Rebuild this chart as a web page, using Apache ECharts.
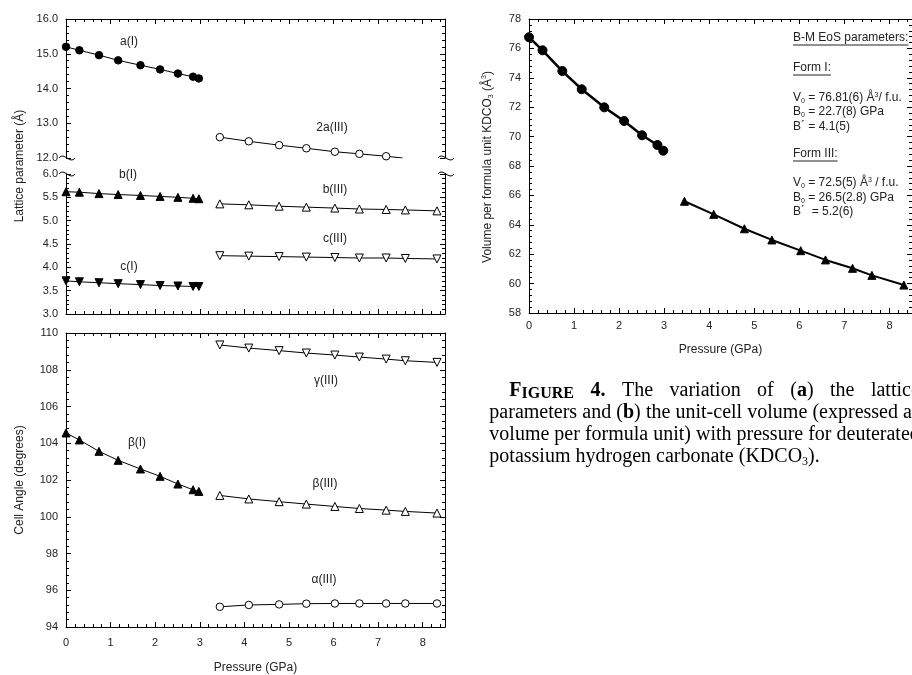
<!DOCTYPE html>
<html><head><meta charset="utf-8">
<script src="https://cdn.jsdelivr.net/npm/echarts@6/dist/echarts.min.js"></script>
<style>html,body{margin:0;padding:0;background:#fff}#c{width:912px;height:675px;overflow:hidden}</style>
</head><body><div id="c"></div>
<script>
// ---- data ----
const pressureI   = [0, 0.30, 0.74, 1.17, 1.67, 2.11, 2.51, 2.85, 2.98];
const pressureIII = [3.45, 4.10, 4.78, 5.39, 6.03, 6.58, 7.18, 7.61, 8.32];
const aI     = [15.20, 15.10, 14.96, 14.81, 14.67, 14.55, 14.43, 14.34, 14.29];
const a2III  = [12.60, 12.48, 12.37, 12.28, 12.18, 12.12, 12.05];
const a2IIIFitEnd = [7.55, 12.0];
const bI     = [5.62, 5.61, 5.58, 5.56, 5.54, 5.52, 5.50, 5.48, 5.47];
const bIII   = [5.36, 5.34, 5.31, 5.29, 5.27, 5.25, 5.24, 5.23, 5.21];
const cI     = [3.71, 3.69, 3.67, 3.65, 3.63, 3.61, 3.60, 3.59, 3.59];
const cIII   = [4.25, 4.24, 4.23, 4.22, 4.21, 4.20, 4.20, 4.19, 4.18];
const betaI   = [104.56, 104.18, 103.56, 103.07, 102.60, 102.20, 101.78, 101.47, 101.38];
const betaIII = [101.16, 100.97, 100.82, 100.69, 100.56, 100.45, 100.36, 100.29, 100.20];
const gammaIII= [109.35, 109.18, 109.04, 108.91, 108.80, 108.69, 108.58, 108.49, 108.40];
const alphaIII= [95.10, 95.20, 95.23, 95.27, 95.28, 95.28, 95.28, 95.28, 95.28];
const volI   = [76.76, 75.87, 74.46, 73.22, 71.99, 71.06, 70.09, 69.43, 69.04];
const volIII = [65.60, 64.71, 63.73, 62.97, 62.24, 61.61, 61.04, 60.56, 59.90];
const xTicksLeft  = {min: 0, max: 8.5, interval: 1};
const yUpper = {min: 12, max: 16, interval: 1};
const yLower = {min: 3, max: 6, interval: 0.5};
const yAngle = {min: 94, max: 110, interval: 2};
const yVol   = {min: 58, max: 78, interval: 2};

const FONT = '"Liberation Sans", Arial, Helvetica, sans-serif';
const SERIF = '"Liberation Serif", "Times New Roman", serif';
const TXT = '#222';

function pairs(xs, ys) { return ys.map((y, i) => [xs[i], y]); }

function axis(extra) {
  const base = {
    type: 'value',
    axisLine: {show: true, onZero: false, lineStyle: {color: '#000', width: 1}},
    axisTick: {show: true, inside: true, length: 5, lineStyle: {color: '#000', width: 1}},
    minorTick: {show: true, splitNumber: 5, length: 3, lineStyle: {color: '#000', width: 1}},
    splitLine: {show: false},
    minorSplitLine: {show: false},
    axisLabel: {show: false}
  };
  return Object.assign(base, extra);
}
function lbl(extra) {
  return Object.assign({show: true, color: TXT, fontFamily: FONT, fontSize: 11, showMaxLabel: true}, extra);
}

const chart = echarts.init(document.getElementById('c'), null, {renderer: 'canvas'});

const grids = [
  {left: 66, width: 379, top: 19, height: 139},
  {left: 66, width: 379, top: 174, height: 140},
  {left: 66, width: 379, top: 333, height: 294},
  {left: 529, width: 390, top: 19, height: 294}
];

const xAxis = [
  axis(Object.assign({gridIndex: 0, position: 'bottom', show: false}, xTicksLeft)),
  axis(Object.assign({gridIndex: 0, position: 'top'}, xTicksLeft)),
  axis(Object.assign({gridIndex: 1, position: 'bottom'}, xTicksLeft)),
  axis(Object.assign({gridIndex: 1, position: 'top', show: false}, xTicksLeft)),
  axis(Object.assign({gridIndex: 2, position: 'bottom',
    axisLabel: lbl({margin: 10, showMaxLabel: false}),
    name: 'Pressure (GPa)', nameLocation: 'middle', nameGap: 35,
    nameTextStyle: {color: TXT, fontFamily: FONT, fontSize: 12}}, xTicksLeft)),
  axis(Object.assign({gridIndex: 2, position: 'top'}, xTicksLeft)),
  axis(Object.assign({gridIndex: 3, position: 'bottom',
    axisLabel: lbl({margin: 7, showMaxLabel: false}),
    name: 'Pressure (GPa)', nameLocation: 'middle', nameGap: 31,
    nameTextStyle: {color: TXT, fontFamily: FONT, fontSize: 12}}, xTicksLeft)),
  axis(Object.assign({gridIndex: 3, position: 'top'}, xTicksLeft))
];

const yAxis = [
  axis(Object.assign({gridIndex: 0, position: 'left', axisLabel: lbl({margin: 8, formatter: v => v.toFixed(1)})}, yUpper)),
  axis(Object.assign({gridIndex: 0, position: 'right'}, yUpper)),
  axis(Object.assign({gridIndex: 1, position: 'left', axisLabel: lbl({margin: 8, formatter: v => v.toFixed(1)})}, yLower)),
  axis(Object.assign({gridIndex: 1, position: 'right'}, yLower)),
  axis(Object.assign({gridIndex: 2, position: 'left', axisLabel: lbl({margin: 8})}, yAngle)),
  axis(Object.assign({gridIndex: 2, position: 'right'}, yAngle)),
  axis(Object.assign({gridIndex: 3, position: 'left', axisLabel: lbl({margin: 8})}, yVol)),
  axis(Object.assign({gridIndex: 3, position: 'right'}, yVol))
];

function ser(name, data, axisIdx, symbol, filled, opts) {
  opts = opts || {};
  return Object.assign({
    name: name, type: 'line', data: data,
    xAxisIndex: axisIdx, yAxisIndex: axisIdx,
    symbol: symbol === 'down' ? 'triangle' : symbol,
    symbolRotate: symbol === 'down' ? 180 : 0,
    symbolSize: symbol === 'circle' ? 7.5 : 8,
    showAllSymbol: true,
    lineStyle: {color: '#000', width: 1},
    itemStyle: {color: filled ? '#000' : '#fff', borderColor: '#000', borderWidth: 1, opacity: 1},
    emphasis: {disabled: true},
    animation: false, z: 3
  }, opts);
}

const series = [
  ser('a(I)', pairs(pressureI, aI), 0, 'circle', true),
  ser('2a(III) fit', [[pressureIII[a2III.length - 1], a2III[a2III.length - 1]], a2IIIFitEnd], 0, 'none', false, {z: 2}),
  ser('2a(III)', pairs(pressureIII, a2III), 0, 'circle', false),
  ser('b(I)', pairs(pressureI, bI), 2, 'triangle', true),
  ser('b(III)', pairs(pressureIII, bIII), 2, 'triangle', false),
  ser('c(I)', pairs(pressureI, cI), 2, 'down', true),
  ser('c(III)', pairs(pressureIII, cIII), 2, 'down', false),
  ser('beta(I)', pairs(pressureI, betaI), 4, 'triangle', true),
  ser('beta(III)', pairs(pressureIII, betaIII), 4, 'triangle', false),
  ser('gamma(III)', pairs(pressureIII, gammaIII), 4, 'down', false),
  ser('alpha(III)', pairs(pressureIII, alphaIII), 4, 'circle', false),
  ser('V(I)', pairs(pressureI, volI), 6, 'circle', true, {symbolSize: 9, lineStyle: {color: '#000', width: 2.5}}),
  ser('V(III)', pairs(pressureIII, volIII), 6, 'triangle', true, {symbolSize: 8, lineStyle: {color: '#000', width: 2}})
];

chart.setOption({
  animation: false,
  backgroundColor: '#fff',
  grid: grids,
  xAxis: xAxis,
  yAxis: yAxis,
  series: series
});

// ---- decorations: labels, axis-break marks, EoS box, caption ----
function t(text, x, y, o) {
  o = o || {};
  return {type: 'text', x: x, y: y, z: 10, silent: true,
    style: Object.assign({text: text, fill: TXT, font: (o.size || 12) + 'px ' + FONT,
      align: o.align || 'center', verticalAlign: 'middle'}, o.style || {}),
    rotation: o.rotation || 0};
}
const g = [];
[['a(I)', 129, 42], ['2a(III)', 332, 128], ['b(I)', 128, 175], ['b(III)', 335, 190],
 ['c(III)', 335, 239], ['c(I)', 129, 267], ['γ(III)', 326, 381], ['β(I)', 137, 443],
 ['β(III)', 325, 484], ['α(III)', 324, 580]].forEach(l => g.push(t(l[0], l[1], l[2])));

g.push(t('Lattice parameter (Å)', 20, 166, {rotation: Math.PI / 2}));
g.push(t('Cell Angle (degrees)', 20, 480, {rotation: Math.PI / 2}));
g.push({type: 'text', x: 488, y: 167, rotation: Math.PI / 2, z: 10, silent: true,
  style: {text: 'Volume per formula unit KDCO{s|3} (Å{p|3})', fill: TXT, font: '12px ' + FONT,
    align: 'center', verticalAlign: 'middle',
    rich: {s: {fontSize: 7, fontFamily: FONT, verticalAlign: 'bottom', fill: TXT, lineHeight: 14},
           p: {fontSize: 7, fontFamily: FONT, verticalAlign: 'top', fill: TXT, lineHeight: 14}}}});

function squiggle(cx, cy) {
  return {type: 'bezierCurve', z: 12, silent: true,
    shape: {x1: cx - 8, y1: cy, cpx1: cx - 3, cpy1: cy - 7, cpx2: cx + 3, cpy2: cy + 7, x2: cx + 8, y2: cy},
    style: {stroke: '#000', lineWidth: 1, fill: null}};
}
const pUL = chart.convertToPixel({gridIndex: 0}, [0, yUpper.min]);
const pUR = chart.convertToPixel({gridIndex: 0}, [xTicksLeft.max, yUpper.min]);
const pLL = chart.convertToPixel({gridIndex: 1}, [0, yLower.max]);
const pLR = chart.convertToPixel({gridIndex: 1}, [xTicksLeft.max, yLower.max]);
[pUL, pUR, pLL, pLR].forEach(p => g.push(squiggle(p[0] + 1, p[1])));

// EoS parameter box
const bx = 793;
const ctx = document.createElement('canvas').getContext('2d');
function underlined(text, y) {
  g.push(t(text, bx, y, {align: 'left'}));
  ctx.font = '12px ' + FONT;
  const w = ctx.measureText(text).width;
  g.push({type: 'line', z: 10, silent: true, shape: {x1: bx, y1: y + 7, x2: bx + w, y2: y + 7},
    style: {stroke: TXT, lineWidth: 1}});
}
function richLine(text, y) {
  g.push({type: 'text', x: bx, y: y, z: 10, silent: true,
    style: {text: text, fill: TXT, font: '12px ' + FONT, align: 'left', verticalAlign: 'middle',
      rich: {s: {fontSize: 7, fontFamily: FONT, verticalAlign: 'bottom', fill: TXT, lineHeight: 13},
             p: {fontSize: 7, fontFamily: FONT, verticalAlign: 'top', fill: TXT, lineHeight: 13},
             n: {fontSize: 12, fontFamily: FONT, fill: TXT, lineHeight: 13}}}});
}
underlined('B-M EoS parameters:', 38);
underlined('Form I:', 68);
richLine('{n|V}{s|0}{n| = 76.81(6) Å}{p|3}{n|/ f.u.}', 98);
richLine('{n|B}{s|0}{n| = 22.7(8) GPa}', 112);
richLine('{n|B´ = 4.1(5)}', 127);
underlined('Form III:', 154);
richLine('{n|V}{s|0}{n| = 72.5(5) Å}{p|3}{n| / f.u.}', 183);
richLine('{n|B}{s|0}{n| = 26.5(2.8) GPa}', 198);
richLine('{n|B´  = 5.2(6)}', 212);

// caption: a justified text column, clipped by the right edge like the reference
const CS = 20;
const capFont = {
  r: CS + 'px ' + SERIF,
  b: 'bold ' + CS + 'px ' + SERIF,
  sc: 'bold ' + Math.round(CS * 0.78) + 'px ' + SERIF,
  sub: Math.round(CS * 0.62) + 'px ' + SERIF
};
const capRich = {
  r: {fontFamily: SERIF, fontSize: CS, fill: '#000', lineHeight: CS + 2},
  b: {fontFamily: SERIF, fontSize: CS, fontWeight: 'bold', fill: '#000', lineHeight: CS + 2},
  sc: {fontFamily: SERIF, fontSize: Math.round(CS * 0.78), fontWeight: 'bold', fill: '#000', lineHeight: CS + 2, verticalAlign: 'bottom'},
  sub: {fontFamily: SERIF, fontSize: Math.round(CS * 0.62), fill: '#000', verticalAlign: 'bottom', lineHeight: CS + 2}
};
const R = s => [[s, 'r']];
const capLines = [
  [[['F', 'b'], ['IGURE', 'sc']], [['4.', 'b']], R('The'), R('variation'), R('of'), [['(', 'r'], ['a', 'b'], [')', 'r']], R('the'), R('lattice')],
  [R('parameters'), R('and'), [['(', 'r'], ['b', 'b'], [')', 'r']], R('the'), R('unit-cell'), R('volume'), R('(expressed'), R('as')],
  [R('volume'), R('per'), R('formula'), R('unit)'), R('with'), R('pressure'), R('for'), R('deuterated')],
  [R('potassium'), R('hydrogen'), R('carbonate'), [['(KDCO', 'r'], ['3', 'sub'], [').', 'r']]]
];
function fw(frags) { return frags.reduce((w, f) => { ctx.font = capFont[f[1]]; return w + ctx.measureText(f[0]).width; }, 0); }
ctx.font = capFont.r;
const spaceW = ctx.measureText(' ').width;
function natural(words) { return words.reduce((w, wd) => w + fw(wd), 0) + spaceW * (words.length - 1); }
const colW = Math.max(natural(capLines[1]), natural(capLines[2]));
ctx.font = capFont.r;
const capX = 912 + ctx.measureText('s').width - colW;
const indent = CS;
const capY = [391, 413, 435, 457];
capLines.forEach((words, li) => {
  const x0 = capX + (li === 0 ? indent : 0);
  const avail = colW - (li === 0 ? indent : 0);
  const wsum = words.reduce((w, wd) => w + fw(wd), 0);
  const gap = li === capLines.length - 1 ? spaceW : (avail - wsum) / (words.length - 1);
  let x = x0;
  words.forEach(wd => {
    g.push({type: 'text', x: x, y: capY[li], z: 10, silent: true,
      style: {text: wd.map(f => '{' + f[1] + '|' + f[0] + '}').join(''), font: capFont.r, fill: '#000',
        align: 'left', verticalAlign: 'middle', rich: capRich}});
    x += fw(wd) + gap;
  });
});

chart.setOption({graphic: {elements: g}});
</script>
</body></html>
